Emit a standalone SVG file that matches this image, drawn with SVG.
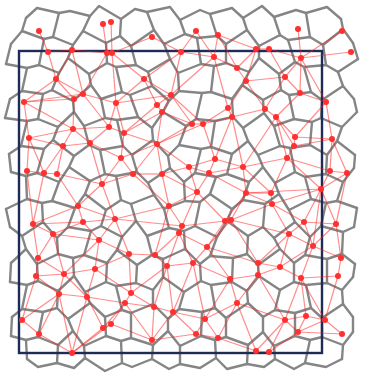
<svg xmlns="http://www.w3.org/2000/svg" width="370" height="377" viewBox="0 0 370 377">
<style>
.cell{fill:none;stroke:#858585;stroke-width:2.4;stroke-linejoin:round;stroke-linecap:round}
#frame rect{fill:none;stroke:#1f2b57;stroke-width:2.4}
#connectors line{stroke:#ff1a1a;stroke-opacity:0.5;stroke-width:1.2}
.pt{fill:#ff3030}
</style>
<rect width="370" height="377" fill="#ffffff"/>
<g id="voronoi">
<path class="cell" d="M26 18 L37 8 L59 13 L70 11 L90 16 L99 6 L121 19 L135 9 L147 12 L170 7 L180 20 L200 10 L210 14 L232 8 L243 18 L262 6 L274 17 L296 10 L306 13 L327 7 L341 19"/>
<path class="cell" d="M11 44 L22 31 L44 39 L53 37 L73 45 L83 31 L106 43 L120 36 L131 46 L154 30 L164 44 L185 34 L197 38 L217 36 L226 44 L247 30 L259 46 L280 35 L288 40 L310 37 L323 45 L343 29 L353 43"/>
<path class="cell" d="M6 64 L27 68 L39 65 L59 73 L68 58 L89 74 L107 63 L116 67 L136 65 L148 72 L170 59 L178 73 L201 64 L214 66 L226 63 L249 72 L259 58 L279 74 L295 62 L304 67 L326 65 L338 72 L358 59"/>
<path class="cell" d="M10 99 L22 91 L43 94 L52 90 L73 101 L91 85 L101 99 L122 92 L130 95 L152 86 L169 101 L179 91 L202 93 L211 92 L232 99 L242 85 L263 100 L281 90 L289 95 L311 92 L322 100 L343 86 L354 99"/>
<path class="cell" d="M5 118 L27 121 L38 119 L58 127 L74 112 L84 126 L105 118 L117 120 L138 117 L152 128 L163 112 L186 126 L196 119 L215 121 L233 117 L243 128 L264 113 L274 126 L294 119 L312 122 L321 118 L342 127 L357 112"/>
<path class="cell" d="M9 154 L21 146 L44 149 L53 140 L74 156 L89 145 L100 150 L123 146 L132 155 L153 140 L168 156 L179 145 L201 149 L211 147 L232 154 L248 141 L258 155 L280 146 L290 148 L310 145 L327 155 L337 141 L355 155"/>
<path class="cell" d="M11 172 L26 176 L37 173 L59 182 L69 167 L90 181 L105 174 L116 176 L137 172 L148 183 L170 168 L184 182 L195 173 L216 177 L227 174 L249 182 L263 167 L275 183 L295 172 L305 177 L326 174 L343 182 L354 168"/>
<path class="cell" d="M6 209 L27 199 L42 203 L52 201 L75 208 L85 194 L106 210 L121 200 L131 204 L154 195 L164 209 L185 201 L200 202 L210 194 L232 209 L243 200 L265 204 L279 194 L289 210 L311 199 L326 203 L337 201 L357 208"/>
<path class="cell" d="M10 227 L22 236 L43 222 L57 238 L68 227 L91 231 L101 226 L122 237 L136 221 L147 236 L169 228 L184 231 L195 226 L217 237 L227 221 L248 236 L263 227 L274 238 L295 222 L310 237 L321 226 L343 232 L354 227"/>
<path class="cell" d="M11 263 L26 249 L37 264 L58 254 L73 258 L84 255 L107 263 L117 250 L137 265 L152 255 L163 259 L185 249 L200 264 L210 256 L233 258 L247 254 L258 265 L280 249 L294 263 L305 255 L327 259 L342 254 L355 264"/>
<path class="cell" d="M10 282 L27 285 L38 281 L58 291 L74 276 L85 292 L106 282 L116 286 L136 283 L153 290 L163 277 L184 292 L201 281 L211 285 L232 282 L247 291 L259 276 L280 290 L294 282 L306 285 L327 283 L342 290 L353 277"/>
<path class="cell" d="M12 317 L22 309 L43 312 L57 308 L68 319 L90 303 L105 317 L122 310 L131 313 L153 304 L168 319 L179 309 L202 312 L215 308 L226 318 L248 303 L263 317 L275 310 L295 313 L311 308 L322 318 L343 304 L353 317"/>
<path class="cell" d="M11 336 L26 340 L38 337 L58 345 L73 331 L84 346 L106 336 L121 341 L131 338 L153 345 L168 331 L180 346 L201 336 L215 340 L226 337 L248 345 L263 332 L274 346 L295 336 L310 340 L322 337 L343 345 L353 332"/>
<path class="cell" d="M27 359 L38 367 L57 363 L74 368 L85 358 L105 371 L122 363 L132 367 L152 359 L169 369 L180 364 L200 368 L216 358 L227 369 L247 364 L264 367 L275 359 L294 369 L305 363 L326 367 L342 359"/>
<path class="cell" d="M26 18L22 31M59 13L53 37M90 16L83 31M121 19L120 36M147 12L154 30M180 20L185 34M210 14L217 36M243 18L247 30M274 17L280 35M306 13L310 37M341 19L343 29
M11 44L6 64M44 39L39 65M73 45L68 58M106 43L107 63M131 46L136 65M164 44L170 59M197 38L201 64M226 44L226 63M259 46L259 58M288 40L295 62M323 45L326 65M353 43L358 59
M27 68L22 91M59 73L52 90M89 74L91 85M116 67L122 92M148 72L152 86M178 73L179 91M214 66L211 92M249 72L242 85M279 74L281 90M304 67L311 92M338 72L343 86
M10 99L5 118M43 94L38 119M73 101L74 112M101 99L105 118M130 95L138 117M169 101L163 112M202 93L196 119M232 99L233 117M263 100L264 113M289 95L294 119M322 100L321 118M354 99L357 112
M27 121L21 146M58 127L53 140M84 126L89 145M117 120L123 146M152 128L153 140M186 126L179 145M215 121L211 147M243 128L248 141M274 126L280 146M312 122L310 145M342 127L337 141
M9 154L11 172M44 149L37 173M74 156L69 167M100 150L105 174M132 155L137 172M168 156L170 168M201 149L195 173M232 154L227 174M258 155L263 167M290 148L295 172M327 155L326 174M355 155L354 168
M26 176L27 199M59 182L52 201M90 181L85 194M116 176L121 200M148 183L154 195M184 182L185 201M216 177L210 194M249 182L243 200M275 183L279 194M305 177L311 199M343 182L337 201
M6 209L10 227M42 203L43 222M75 208L68 227M106 210L101 226M131 204L136 221M164 209L169 228M200 202L195 226M232 209L227 221M265 204L263 227M289 210L295 222M326 203L321 226M357 208L354 227
M22 236L26 249M57 238L58 254M91 231L84 255M122 237L117 250M147 236L152 255M184 231L185 249M217 237L210 256M248 236L247 254M274 238L280 249M310 237L305 255M343 232L342 254
M11 263L10 282M37 264L38 281M73 258L74 276M107 263L106 282M137 265L136 283M163 259L163 277M200 264L201 281M233 258L232 282M258 265L259 276M294 263L294 282M327 259L327 283M355 264L353 277
M27 285L22 309M58 291L57 308M85 292L90 303M116 286L122 310M153 290L153 304M184 292L179 309M211 285L215 308M247 291L248 303M280 290L275 310M306 285L311 308M342 290L343 304
M12 317L11 336M43 312L38 337M68 319L73 331M105 317L106 336M131 313L131 338M168 319L168 331M202 312L201 336M226 318L226 337M263 317L263 332M295 313L295 336M322 318L322 337M353 317L353 332
M26 340L27 359M58 345L57 363M84 346L85 358M121 341L122 363M153 345L152 359M180 346L180 364M215 340L216 358M248 345L247 364M274 346L275 359M310 340L305 363M343 345L342 359"/>
</g>
<g id="frame"><rect x="19" y="51" width="303" height="302"/></g>
<g id="connectors">
<line x1="39" y1="31" x2="48" y2="52"/><line x1="48" y1="52" x2="56" y2="79"/><line x1="72" y1="50" x2="56" y2="79"/><line x1="72" y1="50" x2="83" y2="94"/><line x1="48" y1="52" x2="72" y2="50"/><line x1="72" y1="50" x2="107" y2="53"/><line x1="103" y1="24" x2="107" y2="53"/><line x1="111" y1="22" x2="112" y2="53"/><line x1="107" y1="53" x2="112" y2="53"/><line x1="56" y1="79" x2="24" y2="102"/><line x1="56" y1="79" x2="83" y2="94"/><line x1="56" y1="79" x2="74" y2="99"/><line x1="24" y1="102" x2="74" y2="99"/><line x1="24" y1="102" x2="83" y2="94"/><line x1="83" y1="94" x2="74" y2="99"/><line x1="83" y1="94" x2="116" y2="103"/><line x1="83" y1="94" x2="107" y2="53"/><line x1="112" y1="53" x2="116" y2="103"/><line x1="152" y1="37" x2="112" y2="53"/><line x1="152" y1="37" x2="181" y2="52"/><line x1="144" y1="79" x2="181" y2="52"/><line x1="144" y1="79" x2="112" y2="53"/><line x1="196" y1="31" x2="181" y2="52"/><line x1="196" y1="31" x2="214" y2="57"/><line x1="218" y1="35" x2="214" y2="57"/><line x1="218" y1="35" x2="237" y2="68"/><line x1="181" y1="52" x2="214" y2="57"/><line x1="181" y1="52" x2="171" y2="95"/><line x1="214" y1="57" x2="171" y2="95"/><line x1="214" y1="57" x2="237" y2="68"/><line x1="214" y1="57" x2="228" y2="108"/><line x1="237" y1="68" x2="246" y2="81"/><line x1="144" y1="79" x2="171" y2="95"/><line x1="144" y1="79" x2="157" y2="105"/><line x1="144" y1="79" x2="116" y2="103"/><line x1="171" y1="95" x2="157" y2="105"/><line x1="171" y1="95" x2="162" y2="112"/><line x1="116" y1="103" x2="171" y2="95"/><line x1="171" y1="95" x2="192" y2="124"/><line x1="171" y1="95" x2="203" y2="124"/><line x1="228" y1="108" x2="232" y2="117"/><line x1="228" y1="108" x2="203" y2="124"/><line x1="232" y1="117" x2="203" y2="124"/><line x1="246" y1="81" x2="228" y2="108"/><line x1="298" y1="29" x2="301" y2="58"/><line x1="342" y1="31" x2="301" y2="58"/><line x1="351" y1="52" x2="301" y2="58"/><line x1="256" y1="49" x2="269" y2="49"/><line x1="269" y1="49" x2="301" y2="58"/><line x1="269" y1="49" x2="285" y2="77"/><line x1="256" y1="49" x2="246" y2="81"/><line x1="301" y1="58" x2="285" y2="77"/><line x1="301" y1="58" x2="300" y2="93"/><line x1="301" y1="58" x2="326" y2="102"/><line x1="285" y1="77" x2="246" y2="81"/><line x1="285" y1="77" x2="300" y2="93"/><line x1="285" y1="77" x2="265" y2="109"/><line x1="300" y1="93" x2="326" y2="102"/><line x1="300" y1="93" x2="276" y2="117"/><line x1="265" y1="109" x2="276" y2="117"/><line x1="246" y1="81" x2="265" y2="109"/><line x1="256" y1="49" x2="237" y2="68"/><line x1="218" y1="35" x2="256" y2="49"/>
<line x1="24" y1="102" x2="29" y2="138"/><line x1="74" y1="99" x2="73" y2="129"/><line x1="24" y1="102" x2="73" y2="129"/><line x1="83" y1="94" x2="109" y2="127"/><line x1="116" y1="103" x2="109" y2="127"/><line x1="116" y1="103" x2="124" y2="133"/><line x1="157" y1="105" x2="124" y2="133"/><line x1="157" y1="105" x2="162" y2="112"/><line x1="162" y1="112" x2="124" y2="133"/><line x1="162" y1="112" x2="157" y2="144"/><line x1="162" y1="112" x2="192" y2="124"/><line x1="192" y1="124" x2="203" y2="124"/><line x1="157" y1="144" x2="192" y2="124"/><line x1="157" y1="144" x2="203" y2="124"/><line x1="203" y1="124" x2="215" y2="159"/><line x1="232" y1="117" x2="215" y2="159"/><line x1="232" y1="117" x2="265" y2="109"/><line x1="232" y1="117" x2="243" y2="167"/><line x1="276" y1="117" x2="295" y2="137"/><line x1="276" y1="117" x2="294" y2="146"/><line x1="326" y1="102" x2="295" y2="137"/><line x1="326" y1="102" x2="332" y2="139"/><line x1="295" y1="137" x2="332" y2="139"/><line x1="295" y1="137" x2="294" y2="146"/><line x1="294" y1="146" x2="287" y2="158"/><line x1="294" y1="146" x2="332" y2="139"/><line x1="276" y1="117" x2="287" y2="158"/><line x1="276" y1="117" x2="243" y2="167"/>
<line x1="29" y1="138" x2="73" y2="129"/><line x1="29" y1="138" x2="63" y2="146"/><line x1="29" y1="138" x2="27" y2="171"/><line x1="29" y1="138" x2="44" y2="173"/><line x1="73" y1="129" x2="109" y2="127"/><line x1="73" y1="129" x2="63" y2="146"/><line x1="73" y1="129" x2="90" y2="143"/><line x1="63" y1="146" x2="90" y2="143"/><line x1="63" y1="146" x2="44" y2="173"/><line x1="63" y1="146" x2="57" y2="174"/><line x1="90" y1="143" x2="102" y2="184"/><line x1="90" y1="143" x2="121" y2="158"/><line x1="109" y1="127" x2="90" y2="143"/><line x1="109" y1="127" x2="124" y2="133"/><line x1="124" y1="133" x2="121" y2="158"/><line x1="124" y1="133" x2="157" y2="144"/><line x1="121" y1="158" x2="133" y2="174"/><line x1="121" y1="158" x2="102" y2="184"/><line x1="121" y1="158" x2="157" y2="144"/><line x1="157" y1="144" x2="133" y2="174"/><line x1="157" y1="144" x2="162" y2="174"/><line x1="157" y1="144" x2="189" y2="167"/><line x1="189" y1="167" x2="215" y2="159"/><line x1="189" y1="167" x2="162" y2="174"/><line x1="189" y1="167" x2="209" y2="173"/><line x1="189" y1="167" x2="197" y2="192"/><line x1="215" y1="159" x2="243" y2="167"/><line x1="215" y1="159" x2="209" y2="173"/><line x1="209" y1="173" x2="243" y2="167"/><line x1="243" y1="167" x2="287" y2="158"/><line x1="243" y1="167" x2="246" y2="193"/><line x1="243" y1="167" x2="271" y2="193"/><line x1="287" y1="158" x2="330" y2="171"/><line x1="287" y1="158" x2="271" y2="193"/><line x1="330" y1="171" x2="332" y2="139"/><line x1="347" y1="173" x2="332" y2="139"/><line x1="330" y1="171" x2="347" y2="173"/><line x1="330" y1="171" x2="321" y2="189"/><line x1="347" y1="173" x2="321" y2="189"/><line x1="287" y1="158" x2="321" y2="189"/>
<line x1="27" y1="171" x2="44" y2="173"/><line x1="44" y1="173" x2="57" y2="174"/><line x1="57" y1="174" x2="102" y2="184"/><line x1="57" y1="174" x2="78" y2="206"/><line x1="44" y1="173" x2="33" y2="224"/><line x1="27" y1="171" x2="33" y2="224"/><line x1="102" y1="184" x2="78" y2="206"/><line x1="102" y1="184" x2="115" y2="219"/><line x1="102" y1="184" x2="133" y2="174"/><line x1="133" y1="174" x2="162" y2="174"/><line x1="133" y1="174" x2="169" y2="206"/><line x1="162" y1="174" x2="169" y2="206"/><line x1="162" y1="174" x2="197" y2="192"/><line x1="209" y1="173" x2="197" y2="192"/><line x1="209" y1="173" x2="246" y2="193"/><line x1="197" y1="192" x2="169" y2="206"/><line x1="197" y1="192" x2="225" y2="221"/><line x1="197" y1="192" x2="182" y2="226"/><line x1="169" y1="206" x2="182" y2="226"/><line x1="169" y1="206" x2="115" y2="219"/><line x1="115" y1="219" x2="182" y2="226"/><line x1="246" y1="193" x2="271" y2="193"/><line x1="246" y1="193" x2="321" y2="189"/><line x1="271" y1="193" x2="272" y2="204"/><line x1="321" y1="189" x2="272" y2="204"/><line x1="321" y1="189" x2="304" y2="222"/><line x1="321" y1="189" x2="336" y2="224"/><line x1="321" y1="189" x2="313" y2="246"/><line x1="272" y1="204" x2="304" y2="222"/><line x1="272" y1="204" x2="289" y2="234"/><line x1="246" y1="193" x2="231" y2="220"/><line x1="246" y1="193" x2="225" y2="221"/><line x1="246" y1="193" x2="272" y2="204"/><line x1="272" y1="204" x2="231" y2="220"/><line x1="347" y1="173" x2="336" y2="224"/>
<line x1="78" y1="206" x2="83" y2="222"/><line x1="78" y1="206" x2="33" y2="224"/><line x1="78" y1="206" x2="115" y2="219"/><line x1="33" y1="224" x2="83" y2="222"/><line x1="33" y1="224" x2="53" y2="234"/><line x1="83" y1="222" x2="53" y2="234"/><line x1="83" y1="222" x2="99" y2="240"/><line x1="83" y1="222" x2="115" y2="219"/><line x1="115" y1="219" x2="99" y2="240"/><line x1="53" y1="234" x2="99" y2="240"/><line x1="115" y1="219" x2="129" y2="254"/><line x1="99" y1="240" x2="129" y2="254"/><line x1="169" y1="206" x2="155" y2="255"/><line x1="182" y1="226" x2="179" y2="233"/><line x1="179" y1="233" x2="155" y2="255"/><line x1="179" y1="233" x2="207" y2="247"/><line x1="182" y1="226" x2="225" y2="221"/><line x1="225" y1="221" x2="231" y2="220"/><line x1="225" y1="221" x2="207" y2="247"/><line x1="231" y1="220" x2="207" y2="247"/><line x1="231" y1="220" x2="289" y2="234"/><line x1="231" y1="220" x2="258" y2="263"/><line x1="304" y1="222" x2="289" y2="234"/><line x1="304" y1="222" x2="336" y2="224"/><line x1="304" y1="222" x2="313" y2="246"/><line x1="289" y1="234" x2="313" y2="246"/><line x1="336" y1="224" x2="313" y2="246"/><line x1="336" y1="224" x2="341" y2="258"/><line x1="313" y1="246" x2="341" y2="258"/><line x1="289" y1="234" x2="258" y2="263"/><line x1="289" y1="234" x2="280" y2="267"/><line x1="313" y1="246" x2="280" y2="267"/><line x1="313" y1="246" x2="301" y2="278"/><line x1="129" y1="254" x2="155" y2="255"/><line x1="155" y1="255" x2="167" y2="266"/><line x1="38" y1="258" x2="53" y2="234"/><line x1="38" y1="258" x2="33" y2="224"/><line x1="38" y1="258" x2="36" y2="276"/><line x1="38" y1="258" x2="64" y2="274"/><line x1="53" y1="234" x2="64" y2="274"/><line x1="99" y1="240" x2="95" y2="269"/><line x1="99" y1="240" x2="64" y2="274"/><line x1="129" y1="254" x2="95" y2="269"/><line x1="129" y1="254" x2="131" y2="293"/><line x1="207" y1="247" x2="193" y2="263"/><line x1="207" y1="247" x2="258" y2="263"/><line x1="207" y1="247" x2="230" y2="279"/><line x1="179" y1="233" x2="193" y2="263"/><line x1="179" y1="233" x2="167" y2="266"/>
<line x1="167" y1="266" x2="193" y2="263"/><line x1="193" y1="263" x2="230" y2="279"/><line x1="167" y1="266" x2="131" y2="293"/><line x1="167" y1="266" x2="154" y2="307"/><line x1="167" y1="266" x2="173" y2="312"/><line x1="193" y1="263" x2="173" y2="312"/><line x1="193" y1="263" x2="205" y2="319"/><line x1="230" y1="279" x2="237" y2="303"/><line x1="230" y1="279" x2="205" y2="319"/><line x1="258" y1="263" x2="280" y2="267"/><line x1="258" y1="263" x2="258" y2="275"/><line x1="280" y1="267" x2="258" y2="275"/><line x1="280" y1="267" x2="301" y2="278"/><line x1="258" y1="275" x2="230" y2="279"/><line x1="258" y1="275" x2="237" y2="303"/><line x1="258" y1="275" x2="285" y2="320"/><line x1="338" y1="276" x2="301" y2="278"/><line x1="338" y1="276" x2="341" y2="258"/><line x1="338" y1="276" x2="325" y2="320"/><line x1="301" y1="278" x2="285" y2="320"/><line x1="301" y1="278" x2="306" y2="316"/><line x1="301" y1="278" x2="325" y2="320"/><line x1="36" y1="276" x2="64" y2="274"/><line x1="64" y1="274" x2="95" y2="269"/><line x1="64" y1="274" x2="59" y2="294"/><line x1="36" y1="276" x2="59" y2="294"/><line x1="64" y1="274" x2="87" y2="297"/><line x1="95" y1="269" x2="87" y2="297"/><line x1="95" y1="269" x2="131" y2="293"/><line x1="59" y1="294" x2="87" y2="297"/><line x1="59" y1="294" x2="22" y2="320"/><line x1="59" y1="294" x2="39" y2="334"/><line x1="59" y1="294" x2="72" y2="353"/><line x1="36" y1="276" x2="22" y2="320"/><line x1="87" y1="297" x2="72" y2="353"/><line x1="87" y1="297" x2="103" y2="328"/><line x1="87" y1="297" x2="125" y2="303"/><line x1="131" y1="293" x2="125" y2="303"/><line x1="131" y1="293" x2="154" y2="307"/><line x1="125" y1="303" x2="154" y2="307"/><line x1="154" y1="307" x2="173" y2="312"/><line x1="154" y1="307" x2="152" y2="340"/><line x1="173" y1="312" x2="152" y2="340"/><line x1="125" y1="303" x2="152" y2="340"/><line x1="173" y1="312" x2="205" y2="319"/><line x1="173" y1="312" x2="196" y2="334"/><line x1="205" y1="319" x2="196" y2="334"/><line x1="205" y1="319" x2="218" y2="338"/><line x1="237" y1="303" x2="205" y2="319"/><line x1="237" y1="303" x2="218" y2="338"/><line x1="237" y1="303" x2="285" y2="320"/><line x1="237" y1="303" x2="256" y2="351"/>
<line x1="22" y1="320" x2="39" y2="334"/><line x1="39" y1="334" x2="72" y2="353"/><line x1="103" y1="328" x2="72" y2="353"/><line x1="111" y1="324" x2="103" y2="328"/><line x1="111" y1="324" x2="125" y2="303"/><line x1="111" y1="324" x2="152" y2="340"/><line x1="111" y1="324" x2="72" y2="353"/><line x1="103" y1="328" x2="125" y2="303"/><line x1="196" y1="334" x2="218" y2="338"/><line x1="196" y1="334" x2="152" y2="340"/><line x1="218" y1="338" x2="256" y2="351"/><line x1="285" y1="320" x2="306" y2="316"/><line x1="285" y1="320" x2="298" y2="332"/><line x1="306" y1="316" x2="298" y2="332"/><line x1="306" y1="316" x2="325" y2="320"/><line x1="325" y1="320" x2="298" y2="332"/><line x1="298" y1="332" x2="342" y2="334"/><line x1="325" y1="320" x2="342" y2="334"/><line x1="285" y1="320" x2="256" y2="351"/><line x1="285" y1="320" x2="269" y2="352"/><line x1="256" y1="351" x2="269" y2="352"/><line x1="298" y1="332" x2="269" y2="352"/>
</g>
<g id="nodes" class="pt">
<g id="p1"><circle cx="39" cy="31" r="3"/></g><g id="p2"><circle cx="48" cy="52" r="3"/></g><g id="p3"><circle cx="72" cy="50" r="3"/></g><g id="p4"><circle cx="103" cy="24" r="3"/></g><g id="p5"><circle cx="111" cy="22" r="3"/></g><g id="p6"><circle cx="107" cy="53" r="3"/></g><g id="p7"><circle cx="112" cy="53" r="3"/></g><g id="p8"><circle cx="152" cy="37" r="3"/></g><g id="p9"><circle cx="181" cy="52" r="3"/></g><g id="p10"><circle cx="196" cy="31" r="3"/></g>
<g id="p11"><circle cx="218" cy="35" r="3"/></g><g id="p12"><circle cx="214" cy="57" r="3"/></g><g id="p13"><circle cx="256" cy="49" r="3"/></g><g id="p14"><circle cx="269" cy="49" r="3"/></g><g id="p15"><circle cx="298" cy="29" r="3"/></g><g id="p16"><circle cx="342" cy="31" r="3"/></g><g id="p17"><circle cx="351" cy="52" r="3"/></g><g id="p18"><circle cx="301" cy="58" r="3"/></g><g id="p19"><circle cx="237" cy="68" r="3"/></g><g id="p20"><circle cx="56" cy="79" r="3"/></g>
<g id="p21"><circle cx="144" cy="79" r="3"/></g><g id="p22"><circle cx="285" cy="77" r="3"/></g><g id="p23"><circle cx="246" cy="81" r="3"/></g><g id="p24"><circle cx="83" cy="94" r="3"/></g><g id="p25"><circle cx="171" cy="95" r="3"/></g><g id="p26"><circle cx="300" cy="93" r="3"/></g><g id="p27"><circle cx="74" cy="99" r="3"/></g><g id="p28"><circle cx="24" cy="102" r="3"/></g><g id="p29"><circle cx="116" cy="103" r="3"/></g><g id="p30"><circle cx="326" cy="102" r="3"/></g>
<g id="p31"><circle cx="157" cy="105" r="3"/></g><g id="p32"><circle cx="228" cy="108" r="3"/></g><g id="p33"><circle cx="265" cy="109" r="3"/></g><g id="p34"><circle cx="162" cy="112" r="3"/></g><g id="p35"><circle cx="232" cy="117" r="3"/></g><g id="p36"><circle cx="276" cy="117" r="3"/></g><g id="p37"><circle cx="192" cy="124" r="3"/></g><g id="p38"><circle cx="203" cy="124" r="3"/></g><g id="p39"><circle cx="73" cy="129" r="3"/></g><g id="p40"><circle cx="109" cy="127" r="3"/></g>
<g id="p41"><circle cx="124" cy="133" r="3"/></g><g id="p42"><circle cx="29" cy="138" r="3"/></g><g id="p43"><circle cx="295" cy="137" r="3"/></g><g id="p44"><circle cx="332" cy="139" r="3"/></g><g id="p45"><circle cx="90" cy="143" r="3"/></g><g id="p46"><circle cx="157" cy="144" r="3"/></g><g id="p47"><circle cx="63" cy="146" r="3"/></g><g id="p48"><circle cx="294" cy="146" r="3"/></g><g id="p49"><circle cx="121" cy="158" r="3"/></g><g id="p50"><circle cx="287" cy="158" r="3"/></g>
<g id="p51"><circle cx="215" cy="159" r="3"/></g><g id="p52"><circle cx="189" cy="167" r="3"/></g><g id="p53"><circle cx="243" cy="167" r="3"/></g><g id="p54"><circle cx="330" cy="171" r="3"/></g><g id="p55"><circle cx="347" cy="173" r="3"/></g><g id="p56"><circle cx="27" cy="171" r="3"/></g><g id="p57"><circle cx="44" cy="173" r="3"/></g><g id="p58"><circle cx="57" cy="174" r="3"/></g><g id="p59"><circle cx="133" cy="174" r="3"/></g><g id="p60"><circle cx="162" cy="174" r="3"/></g>
<g id="p61"><circle cx="209" cy="173" r="3"/></g><g id="p62"><circle cx="102" cy="184" r="3"/></g><g id="p63"><circle cx="321" cy="189" r="3"/></g><g id="p64"><circle cx="246" cy="193" r="3"/></g><g id="p65"><circle cx="271" cy="193" r="3"/></g><g id="p66"><circle cx="197" cy="192" r="3"/></g><g id="p67"><circle cx="78" cy="206" r="3"/></g><g id="p68"><circle cx="272" cy="204" r="3"/></g><g id="p69"><circle cx="169" cy="206" r="3"/></g><g id="p70"><circle cx="115" cy="219" r="3"/></g>
<g id="p71"><circle cx="83" cy="222" r="3"/></g><g id="p72"><circle cx="33" cy="224" r="3"/></g><g id="p73"><circle cx="225" cy="221" r="3"/></g><g id="p74"><circle cx="231" cy="220" r="3"/></g><g id="p75"><circle cx="304" cy="222" r="3"/></g><g id="p76"><circle cx="336" cy="224" r="3"/></g><g id="p77"><circle cx="182" cy="226" r="3"/></g><g id="p78"><circle cx="179" cy="233" r="3"/></g><g id="p79"><circle cx="53" cy="234" r="3"/></g><g id="p80"><circle cx="289" cy="234" r="3"/></g>
<g id="p81"><circle cx="99" cy="240" r="3"/></g><g id="p82"><circle cx="313" cy="246" r="3"/></g><g id="p83"><circle cx="207" cy="247" r="3"/></g><g id="p84"><circle cx="129" cy="254" r="3"/></g><g id="p85"><circle cx="155" cy="255" r="3"/></g><g id="p86"><circle cx="38" cy="258" r="3"/></g><g id="p87"><circle cx="258" cy="263" r="3"/></g><g id="p88"><circle cx="341" cy="258" r="3"/></g><g id="p89"><circle cx="193" cy="263" r="3"/></g><g id="p90"><circle cx="167" cy="266" r="3"/></g>
<g id="p91"><circle cx="280" cy="267" r="3"/></g><g id="p92"><circle cx="95" cy="269" r="3"/></g><g id="p93"><circle cx="64" cy="274" r="3"/></g><g id="p94"><circle cx="36" cy="276" r="3"/></g><g id="p95"><circle cx="258" cy="275" r="3"/></g><g id="p96"><circle cx="338" cy="276" r="3"/></g><g id="p97"><circle cx="301" cy="278" r="3"/></g><g id="p98"><circle cx="230" cy="279" r="3"/></g><g id="p99"><circle cx="131" cy="293" r="3"/></g><g id="p100"><circle cx="59" cy="294" r="3"/></g>
<g id="p101"><circle cx="87" cy="297" r="3"/></g><g id="p102"><circle cx="125" cy="303" r="3"/></g><g id="p103"><circle cx="237" cy="303" r="3"/></g><g id="p104"><circle cx="154" cy="307" r="3"/></g><g id="p105"><circle cx="173" cy="312" r="3"/></g><g id="p106"><circle cx="22" cy="320" r="3"/></g><g id="p107"><circle cx="205" cy="319" r="3"/></g><g id="p108"><circle cx="285" cy="320" r="3"/></g><g id="p109"><circle cx="306" cy="316" r="3"/></g><g id="p110"><circle cx="325" cy="320" r="3"/></g>
<g id="p111"><circle cx="111" cy="324" r="3"/></g><g id="p112"><circle cx="103" cy="328" r="3"/></g><g id="p113"><circle cx="39" cy="334" r="3"/></g><g id="p114"><circle cx="196" cy="334" r="3"/></g><g id="p115"><circle cx="218" cy="338" r="3"/></g><g id="p116"><circle cx="152" cy="340" r="3"/></g><g id="p117"><circle cx="298" cy="332" r="3"/></g><g id="p118"><circle cx="342" cy="334" r="3"/></g><g id="p119"><circle cx="72" cy="353" r="3"/></g><g id="p120"><circle cx="256" cy="351" r="3"/></g>
<g id="p121"><circle cx="269" cy="352" r="3"/></g>
</g>
</svg>
